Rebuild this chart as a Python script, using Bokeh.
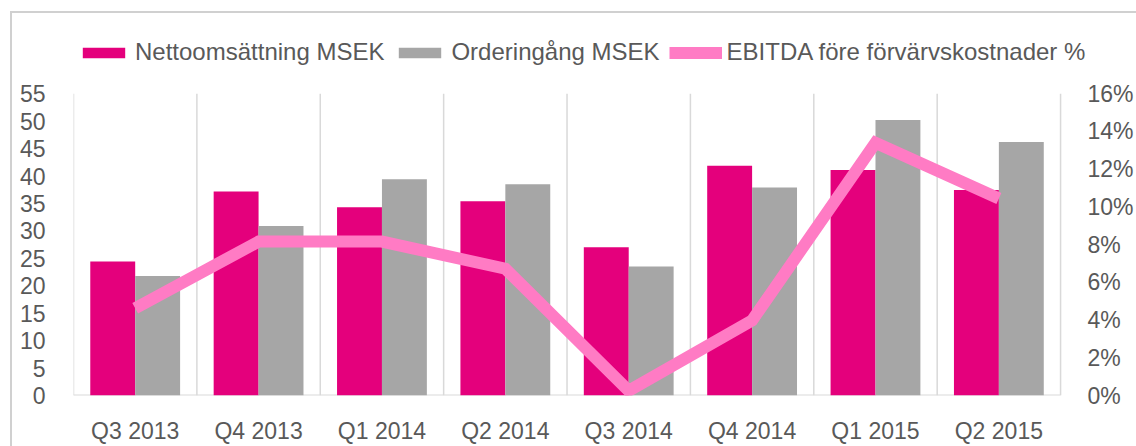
from bokeh.plotting import figure
from bokeh.models import (ColumnDataSource, Range1d, LinearAxis, FixedTicker,
                          Legend, LegendItem)
from bokeh.embed import file_html
from bokeh.resources import INLINE

quarters = ["Q3 2013", "Q4 2013", "Q1 2014", "Q2 2014", "Q3 2014", "Q4 2014", "Q1 2015", "Q2 2015"]
netto = [24.4, 37.2, 34.3, 35.4, 27.0, 41.85, 41.1, 37.45]
order = [21.8, 30.9, 39.4, 38.5, 23.5, 37.9, 50.2, 46.2]
ebitda = [4.63, 8.16, 8.16, 6.72, 0.25, 3.98, 13.4, 10.44]

left_ticks = [0, 5, 10, 15, 20, 25, 30, 35, 40, 45, 50, 55]
right_ticks = [0, 2, 4, 6, 8, 10, 12, 14, 16]

PINK = "#E4007C"
GRAY = "#A6A6A6"
LINE = "#FF7BC4"
TXT = "#595959"
GRID = "#D9D9D9"
FONT = "Liberation Sans"

W, H = 1136, 446
# plot area (pixels): value axis from 94 (top tick) to 399 (zero), categories from 73 to 1062.
# The frame is made larger (up to 20 px and 1092 px) so that the legend fits inside it.
FRAME_TOP, AXIS_TOP, AXIS_BOTTOM = 20, 94, 399
FRAME_LEFT, AXIS_RIGHT, FRAME_RIGHT = 73, 1062, 1092
ystretch = (AXIS_BOTTOM - FRAME_TOP) / (AXIS_BOTTOM - AXIS_TOP)
n = len(quarters)
x_end = n * (FRAME_RIGHT - FRAME_LEFT) / (AXIS_RIGHT - FRAME_LEFT)
left_max = left_ticks[-1]
right_max = right_ticks[-1]

idx = list(range(n))
src = ColumnDataSource(dict(
    center=[i + 0.5 for i in idx],
    xn=[i + 0.318 for i in idx],
    xo=[i + 0.682 for i in idx],
    netto=netto, order=order, ebitda=ebitda,
))

p = figure(width=W, height=H, output_backend="svg", toolbar_location=None,
           x_range=Range1d(0, x_end), y_range=Range1d(0, left_max * ystretch),
           min_border_left=FRAME_LEFT, min_border_right=W - FRAME_RIGHT,
           min_border_top=FRAME_TOP, min_border_bottom=H - AXIS_BOTTOM)
p.styles = {
    "background": ("linear-gradient(#D0D0D0,#D0D0D0) 10px 11px / 2px 100% no-repeat, "
                   "linear-gradient(#D0D0D0,#D0D0D0) 10px 11px / 100% 2px no-repeat, white"),
}
p.outline_line_color = None
p.background_fill_color = "white"
p.border_fill_alpha = 0

p.extra_y_ranges = {"pct": Range1d(0, right_max * ystretch)}

# vertical separators at category boundaries, up to the top tick, and the base line
bounds = list(range(n + 1))
p.segment(x0=bounds, x1=bounds, y0=[0] * len(bounds), y1=[left_max] * len(bounds),
          line_color=GRID, line_width=1.5)
p.segment(x0=[0], x1=[n], y0=[0], y1=[0], line_color=GRID, line_width=2)

r_n = p.vbar(x="xn", top="netto", width=0.364, source=src, fill_color=PINK, line_color=None)
r_o = p.vbar(x="xo", top="order", width=0.364, source=src, fill_color=GRAY, line_color=None)
r_l = p.line(x="center", y="ebitda", source=src, y_range_name="pct", line_color=LINE,
             line_width=12, line_join="miter", line_cap="butt")

# x axis
xa = p.xaxis[0]
xa.ticker = FixedTicker(ticks=[i + 0.5 for i in idx])
xa.major_label_overrides = {i + 0.5: q for i, q in zip(idx, quarters)}
xa.major_tick_line_color = None
xa.minor_tick_line_color = None
xa.axis_line_color = None
xa.major_label_standoff = 16
xa.major_label_text_font = FONT
xa.major_label_text_font_size = "23px"
xa.major_label_text_color = TXT

# left axis
ya = p.yaxis[0]
ya.ticker = FixedTicker(ticks=left_ticks)
ya.axis_line_color = None
ya.major_tick_line_color = None
ya.minor_tick_line_color = None
ya.major_label_standoff = 22
ya.major_label_text_font = FONT
ya.major_label_text_font_size = "23px"
ya.major_label_text_color = TXT

# right axis (labels start 21 px right of the last category boundary)
ra = LinearAxis(y_range_name="pct", ticker=FixedTicker(ticks=right_ticks))
ra.major_label_overrides = {t: f"{t}%" for t in right_ticks}
ra.axis_line_color = None
ra.major_tick_line_color = None
ra.minor_tick_line_color = None
ra.major_label_standoff = 21 - (FRAME_RIGHT - AXIS_RIGHT)
ra.major_label_text_font = FONT
ra.major_label_text_font_size = "23px"
ra.major_label_text_color = TXT
p.add_layout(ra, "right")

p.xgrid.grid_line_color = None
p.ygrid.grid_line_color = None

legend = Legend(items=[
    LegendItem(label="Nettoomsättning MSEK", renderers=[r_n]),
    LegendItem(label="Orderingång MSEK", renderers=[r_o]),
    LegendItem(label="EBITDA före förvärvskostnader %", renderers=[r_l]),
], orientation="horizontal", location=(4, 329), padding=0, margin=0, spacing=9,
    glyph_width=53, glyph_height=13, label_standoff=5,
    label_text_font=FONT, label_text_font_size="24px", label_text_color=TXT,
    border_line_color=None, background_fill_alpha=0)
p.add_layout(legend, "center")

open("out.html", "w").write(file_html(p, INLINE))
